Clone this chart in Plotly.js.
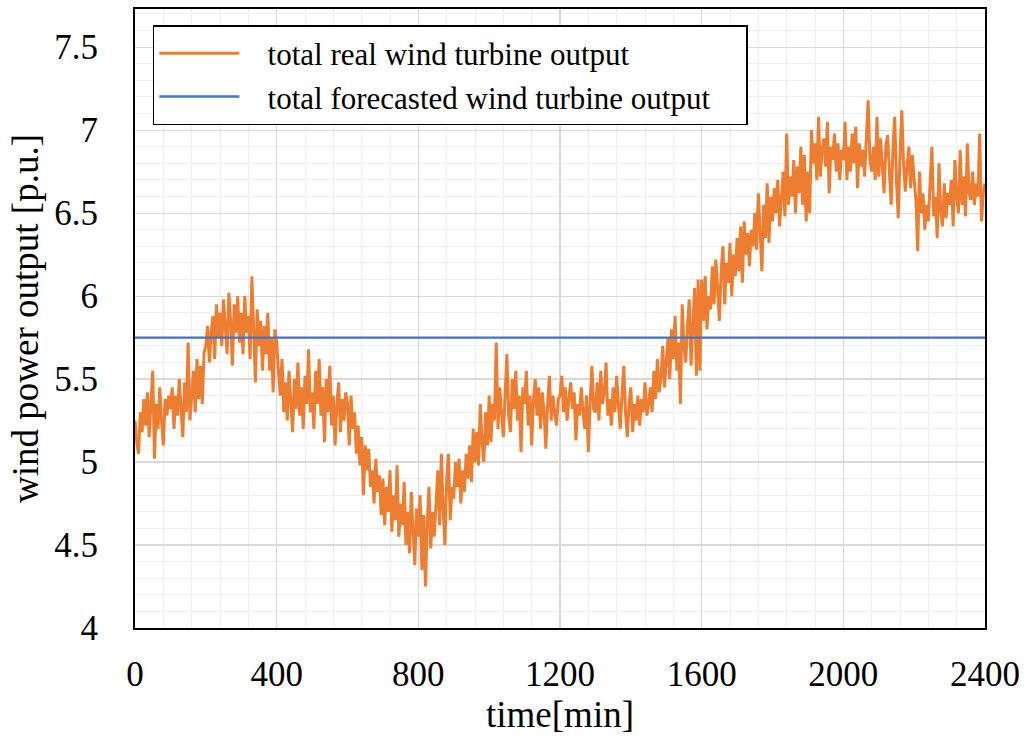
<!DOCTYPE html>
<html>
<head>
<meta charset="utf-8">
<script src="https://cdn.plot.ly/plotly-3.0.1.min.js"></script>
<style>
  html, body { margin: 0; padding: 0; background: #ffffff; }
  #chart { width: 1029px; height: 745px; }
</style>
</head>
<body>
<div id="chart"></div>
<script>
// ---- data ----
const timeStepMin = 5;   // sampling interval of the real output series [min]
const realOutput = [
  // 0-95
  5.25, 5.12, 5.05, 5.30, 5.18, 5.38, 5.22, 5.42, 5.15, 5.33, 5.55, 5.02, 5.35, 5.20, 5.45, 5.25, 5.10, 5.38, 5.28, 5.40,
  // 100-195
  5.32, 5.45, 5.20, 5.40, 5.28, 5.50, 5.35, 5.15, 5.48, 5.30, 5.72, 5.25, 5.40, 5.55, 5.30, 5.62, 5.38, 5.58, 5.35, 5.66,
  // 200-295
  5.70, 5.82, 5.60, 5.78, 5.88, 5.62, 5.95, 5.75, 5.90, 5.70, 5.98, 5.80, 5.65, 6.02, 5.85, 5.58, 5.95, 5.78, 6.00, 5.72,
  // 300-395
  5.90, 5.65, 6.00, 5.78, 5.88, 5.62, 6.12, 5.80, 5.48, 5.92, 5.70, 5.85, 5.55, 5.82, 5.65, 5.90, 5.55, 5.75, 5.42, 5.80,
  // 400-495
  5.72, 5.55, 5.40, 5.62, 5.30, 5.48, 5.25, 5.55, 5.38, 5.18, 5.50, 5.32, 5.60, 5.28, 5.45, 5.20, 5.52, 5.35, 5.68, 5.30,
  // 500-595
  5.42, 5.20, 5.55, 5.35, 5.62, 5.28, 5.45, 5.12, 5.50, 5.30, 5.58, 5.22, 5.40, 5.10, 5.35, 5.48, 5.18, 5.38, 5.25, 5.42,
  // 600-695
  5.35, 5.10, 5.40, 5.20, 5.30, 5.05, 5.22, 4.98, 5.15, 4.80, 5.10, 4.95, 5.08, 4.85, 4.95, 4.75, 5.02, 4.82, 4.92, 4.68,
  // 700-795
  4.90, 4.62, 4.85, 4.70, 4.95, 4.58, 4.80, 4.65, 4.98, 4.55, 4.75, 4.62, 4.88, 4.50, 4.70, 4.45, 4.82, 4.60, 4.38, 4.72,
  // 800-895
  4.55, 4.80, 4.35, 4.68, 4.25, 4.62, 4.85, 4.48, 4.70, 4.55, 4.80, 4.95, 4.62, 5.05, 4.72, 4.50, 4.90, 5.05, 4.65, 4.85,
  // 900-995
  4.78, 5.00, 4.85, 5.02, 4.75, 4.95, 4.82, 5.05, 4.90, 5.10, 4.88, 5.20, 5.00, 5.18, 4.98, 5.35, 5.12, 5.00, 5.30, 5.10,
  // 1000-1095
  5.40, 5.12, 5.35, 5.25, 5.72, 5.20, 5.45, 5.30, 5.15, 5.40, 5.65, 5.28, 5.18, 5.50, 5.32, 5.55, 5.25, 5.40, 5.06, 5.45,
  // 1100-1195
  5.35, 5.55, 5.22, 5.40, 5.10, 5.38, 5.50, 5.28, 5.45, 5.20, 5.42, 5.30, 5.08, 5.35, 5.52, 5.25, 5.40, 5.30, 5.22, 5.38,
  // 1200-1295
  5.40, 5.52, 5.30, 5.45, 5.25, 5.38, 5.48, 5.32, 5.42, 5.13, 5.35, 5.28, 5.45, 5.30, 5.20, 5.40, 5.06, 5.35, 5.58, 5.32,
  // 1300-1395
  5.30, 5.48, 5.25, 5.55, 5.35, 5.42, 5.60, 5.28, 5.38, 5.22, 5.45, 5.30, 5.52, 5.35, 5.20, 5.40, 5.58, 5.30, 5.15, 5.35,
  // 1400-1495
  5.45, 5.18, 5.35, 5.25, 5.40, 5.22, 5.38, 5.30, 5.48, 5.28, 5.35, 5.45, 5.30, 5.55, 5.38, 5.62, 5.42, 5.50, 5.70, 5.45,
  // 1500-1595
  5.60, 5.75, 5.50, 5.80, 5.62, 5.88, 5.55, 5.72, 5.35, 5.95, 5.70, 5.60, 5.82, 5.98, 5.58, 5.85, 6.05, 5.52, 6.10, 5.55,
  // 1600-1695
  6.10, 5.85, 6.12, 5.80, 6.00, 5.92, 6.18, 5.95, 6.22, 6.05, 5.85, 6.15, 6.30, 5.95, 6.20, 6.08, 6.32, 6.00, 6.25, 6.12,
  // 1700-1795
  6.35, 6.15, 6.42, 6.08, 6.45, 6.25, 6.38, 6.18, 6.40, 6.30, 6.50, 6.28, 6.62, 6.40, 6.15, 6.55, 6.35, 6.68, 6.32, 6.60,
  // 1800-1895
  6.45, 6.65, 6.50, 6.70, 6.42, 6.58, 6.75, 6.48, 6.98, 6.55, 6.72, 6.60, 6.82, 6.50, 6.78, 6.62, 6.90, 6.55, 6.85, 6.45,
  // 1900-1995
  6.75, 6.50, 7.00, 6.80, 6.92, 6.70, 7.08, 6.72, 6.88, 6.95, 6.78, 7.05, 6.62, 6.90, 6.82, 6.98, 6.75, 6.92, 6.70, 6.88,
  // 2000-2095
  6.82, 7.05, 6.70, 6.90, 6.75, 6.98, 6.80, 7.02, 6.65, 6.92, 6.78, 6.88, 6.72, 6.95, 7.18, 6.82, 6.75, 6.90, 6.70, 7.08,
  // 2100-2195
  6.72, 6.95, 6.80, 6.62, 6.90, 6.97, 6.75, 6.55, 6.88, 7.08, 6.70, 6.47, 6.85, 7.12, 6.80, 6.63, 6.78, 6.90, 6.65, 6.85,
  // 2200-2295
  6.70, 6.58, 6.27, 6.75, 6.50, 6.62, 6.40, 6.55, 6.45, 6.70, 6.90, 6.48, 6.60, 6.35, 6.80, 6.52, 6.42, 6.68, 6.47, 6.62,
  // 2300-2395
  6.55, 6.70, 6.42, 6.82, 6.60, 6.50, 6.88, 6.55, 6.72, 6.48, 6.92, 6.62, 6.58, 6.75, 6.55, 6.68, 6.60, 6.98, 6.45, 6.62,
  // 2400
  6.68
];
const forecastTime = [0, 2400];
const forecastOutput = [5.75, 5.75];
const xTickVals = [0, 400, 800, 1200, 1600, 2000, 2400];
const yTickVals = [4, 4.5, 5, 5.5, 6, 6.5, 7, 7.5];
const seriesNames = ["total real wind turbine output", "total forecasted wind turbine output"];
const xTitle = "time[min]";
const yTitle = "wind power output [p.u.]";

const realTime = realOutput.map((_, i) => i * timeStepMin);

const FONT = "'Liberation Serif', 'Times New Roman', serif";
const NB = '\u00a0';

const traces = [
  {
    x: realTime, y: realOutput, type: 'scatter', mode: 'lines',
    name: NB + NB + NB + seriesNames[0],
    line: { color: '#ED7D31', width: 3 }
  },
  {
    x: forecastTime, y: forecastOutput, type: 'scatter', mode: 'lines',
    name: NB + NB + NB + seriesNames[1] + NB + NB + NB + NB,
    line: { color: '#4472C4', width: 2.4 }
  }
];

const layout = {
  width: 1029, height: 745,
  paper_bgcolor: '#ffffff', plot_bgcolor: '#ffffff',
  margin: { l: 135, r: 44, t: 9, b: 117 },
  font: { family: FONT, color: '#000000' },
  showlegend: true,
  legend: {
    x: 0.021, y: 0.974, xanchor: 'left', yanchor: 'top',
    bgcolor: '#ffffff', bordercolor: '#000000', borderwidth: 1.5,
    font: { family: FONT, size: 31, color: '#000000' },
    itemwidth: 80, tracegroupgap: 0
  },
  xaxis: {
    range: [0, 2400], tickvals: xTickVals, ticktext: xTickVals.map(String),
    showgrid: true, gridcolor: '#d9d9d9', gridwidth: 1.2,
    minor: { dtick: 80, showgrid: true, gridcolor: '#eeeeee', gridwidth: 1, ticks: '' },
    showline: true, linecolor: '#000000', linewidth: 2, mirror: true,
    ticks: '', zeroline: false,
    tickfont: { family: FONT, size: 35 }, ticklabelstandoff: 14,
    title: { text: xTitle, font: { family: FONT, size: 37 }, standoff: 8 }
  },
  yaxis: {
    range: [4, 7.73], tickvals: yTickVals,
    showgrid: true, gridcolor: '#d9d9d9', gridwidth: 1.2,
    minor: { dtick: 0.1, showgrid: true, gridcolor: '#eeeeee', gridwidth: 1, ticks: '' },
    showline: true, linecolor: '#000000', linewidth: 2, mirror: true,
    ticks: '', zeroline: false,
    tickfont: { family: FONT, size: 35 }, ticklabelstandoff: 28,
    title: { text: yTitle, font: { family: FONT, size: 37 }, standoff: 4 }
  }
};

Plotly.newPlot('chart', traces, layout, { staticPlot: true, displayModeBar: false });
</script>
</body>
</html>
